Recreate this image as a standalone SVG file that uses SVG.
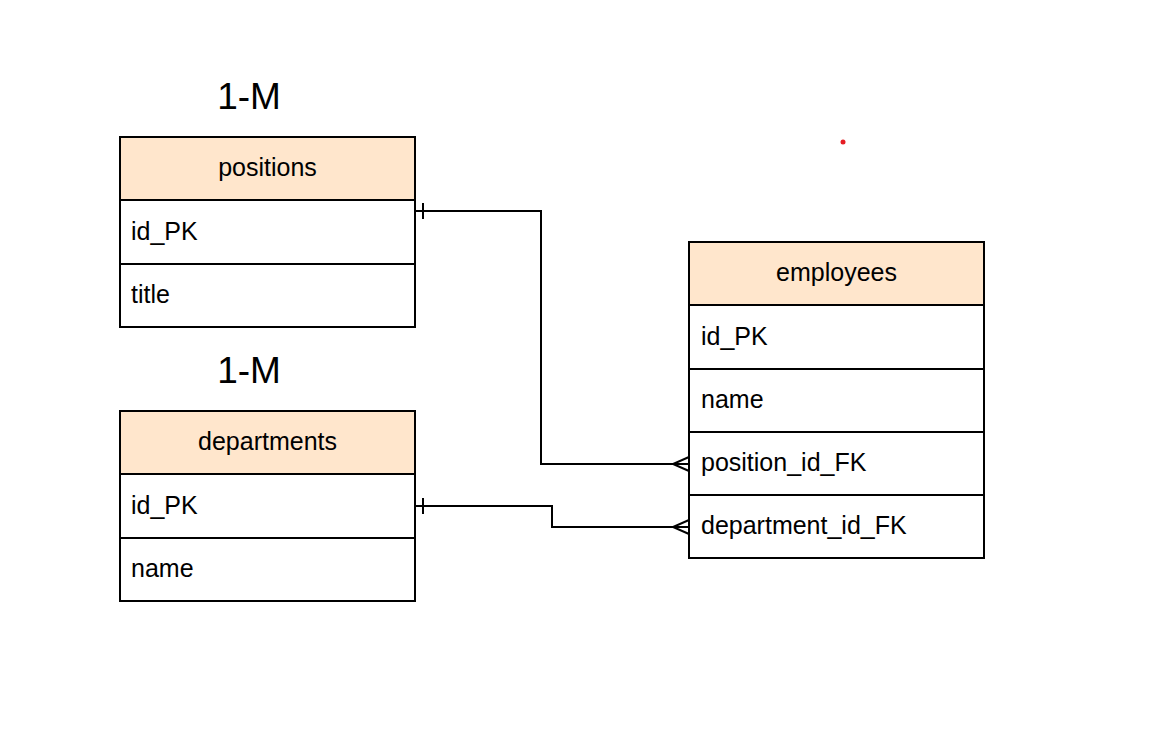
<svg xmlns="http://www.w3.org/2000/svg" width="1159" height="751" viewBox="0 0 1159 751">
<style>
.hdr{fill:#ffe6cc;stroke:#000;stroke-width:2}
.row{fill:#fff;stroke:#000;stroke-width:2}
.t{font-family:"Liberation Sans",Arial,sans-serif;font-size:25px;fill:#000}
.c{text-anchor:middle}
.big{font-family:"Liberation Sans",Arial,sans-serif;font-size:37px;fill:#000;text-anchor:middle}
.ln{fill:none;stroke:#000;stroke-width:2}
</style>
<rect width="1159" height="751" fill="#fff"/>
<text class="big" x="249" y="109">1-M</text>
<text class="big" x="249" y="383">1-M</text>
<circle cx="843" cy="142" r="2.5" fill="#e51c23"/>
<g id="positions">
<rect class="hdr" x="120" y="137" width="295" height="63"/>
<rect class="row" x="120" y="200" width="295" height="64"/>
<rect class="row" x="120" y="264" width="295" height="63"/>
<text class="t c" x="267.5" y="176">positions</text>
<text class="t" x="131" y="240">id_PK</text>
<text class="t" x="131" y="303">title</text>
</g>
<g id="departments">
<rect class="hdr" x="120" y="411" width="295" height="63"/>
<rect class="row" x="120" y="474" width="295" height="64"/>
<rect class="row" x="120" y="538" width="295" height="63"/>
<text class="t c" x="267.5" y="450">departments</text>
<text class="t" x="131" y="514">id_PK</text>
<text class="t" x="131" y="577">name</text>
</g>
<g id="employees">
<rect class="hdr" x="689" y="242" width="295" height="63"/>
<rect class="row" x="689" y="305" width="295" height="64"/>
<rect class="row" x="689" y="369" width="295" height="63"/>
<rect class="row" x="689" y="432" width="295" height="63"/>
<rect class="row" x="689" y="495" width="295" height="63"/>
<text class="t c" x="836.5" y="281">employees</text>
<text class="t" x="701" y="345">id_PK</text>
<text class="t" x="701" y="408">name</text>
<text class="t" x="701" y="471">position_id_FK</text>
<text class="t" x="701" y="534">department_id_FK</text>
</g>
<g id="connectors">
<path class="ln" d="M415 211 H541 V464 H689"/>
<path class="ln" d="M423 203 V219"/>
<path class="ln" d="M689 457 L673 464 L689 471"/>
<path class="ln" d="M415 506 H552 V527 H689"/>
<path class="ln" d="M423 498 V514"/>
<path class="ln" d="M689 520 L673 527 L689 534"/>
</g>
</svg>
